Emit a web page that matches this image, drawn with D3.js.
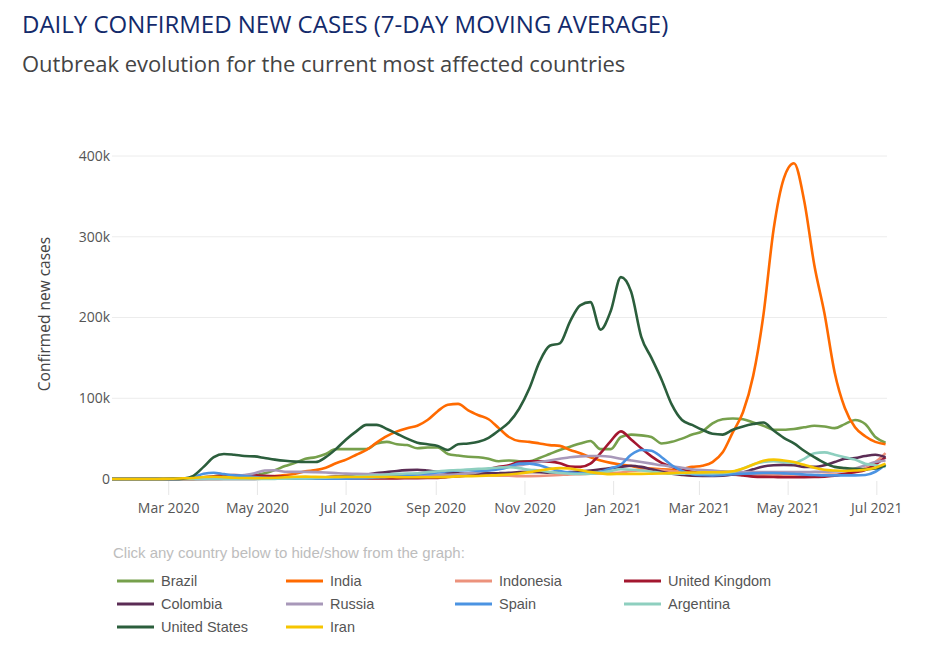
<!DOCTYPE html>
<html>
<head>
<meta charset="utf-8">
<script src="https://cdn.jsdelivr.net/npm/d3@7"></script>
<style>
  body { margin: 0; background: #fff; }
  svg { display: block; }
</style>
</head>
<body>
<div id="chart"></div>
<script>
// weekly 7-day averages, thousands of cases, starting 22 Jan 2020
var startDate = new Date(2020, 0, 22);
var endDate = new Date(2021, 6, 8);

var countries = ["Brazil", "India", "Indonesia", "United Kingdom", "Colombia",
  "Russia", "Spain", "Argentina", "United States", "Iran"];
var colors = ["#76a04c", "#ff6a00", "#ec927c", "#a3172f", "#5b2c55",
  "#a898b9", "#4b93e2", "#8ecfbf", "#2b5e3c", "#f6c500"];

var brazil = [0,0,0,0,0,0,0,0,0.1,0.3,0.8,1.5,2,2.5,4.5,7,11,16,20,25,27,31,37,37,37,37,44,46,43,42,38,39,39,31,29,27.6,27,25,22,23,22,22,26,31,36,40,44,47,37,37,52,55,54,52,44,46,50,55,59,69,74,75,74,70,66,61,61,62,64,66,65,63,68,73,68,52,45];
var india = [0,0,0,0,0,0,0,0.1,0.2,0.5,1,1,1.2,1.5,1.8,2.8,3.8,5,6.5,9.5,11,14,19.5,24,30,36,45,53,59,63,66,73,84,92,93,85,79,74,63,52,47,46,44,42,41,36,32,27,23,20,18,16,14,13,12,11.5,12.5,15,16.5,21,33,58,83,128,203,309,372,391,345,265,205,132,88,64,53,46,43];
var indonesia = [0,0,0,0,0,0,0,0,0,0,0.1,0.25,0.3,0.3,0.35,0.35,0.45,0.5,0.6,0.7,0.9,1,1.1,1.3,1.5,1.6,1.7,1.8,1.8,1.9,2,2.4,2.8,3.2,3.6,4,4.2,4.3,4.2,4,3.6,3.6,3.8,4.3,5,5.7,6,6.5,6.8,7.2,8,10,11,11.5,11,9.5,8.5,7.5,6.5,5.8,5.5,5.3,5,5,5,5.2,4.8,4.5,4,4.5,5.3,5.5,6.5,9,13.5,21,32];
var unitedKingdom = [0,0,0,0,0,0,0,0.3,0.8,2,3.5,4.5,4.8,4.6,4.5,4,3.3,2.8,2,1.6,1.3,1.1,0.9,0.8,0.6,0.6,0.7,0.7,0.8,1,1.1,1.2,1.4,2.5,3.5,4.5,6.5,12,15,17,21,22,22,21.5,19.5,15.5,15,19,32,47,59,49,38,28,20,15,11.5,9,7,6,5.5,5.5,4.5,3,2.6,2.5,2.2,2.2,2.3,2.4,3,4,6.5,8.5,11,18,27];
var colombia = [0,0,0,0,0,0,0,0,0,0,0.1,0.1,0.1,0.15,0.2,0.3,0.4,0.6,0.8,1.1,1.5,2.2,3,3.7,4.5,5.5,7.3,8.5,10,11,11.5,10.5,9,7.8,7,6.5,6.8,7,7.2,7.6,8.5,8.8,8.5,7.8,7.8,8.5,9.3,10.5,12,13.5,15,16.5,15,12,9,6.5,5,4,3.8,3.9,4.2,5.5,8,12,15.5,17,17.5,17,15,15,17,21,25,26,28.5,30,27];
var russia = [0,0,0,0,0,0,0,0,0,0.1,0.6,1.5,3.5,5,7,10.5,10.8,9,8.8,8.8,8.5,8,7.3,6.7,6.5,6.2,5.8,5.5,5.3,5.1,4.9,4.8,5,5.3,5.8,6.8,8.5,11,13.5,15.5,17,19,21,23,25,27,28,28.5,28.5,27.5,25,23,21,19,17,15.5,14,12,11,10.5,9.5,9,8.7,8.7,8.7,8.7,8.6,8.5,8.5,8.8,9,9.2,10,13,17,21,23];
var spain = [0,0,0,0,0,0,0,0.5,2.5,6.5,7.8,6,4.5,3.8,2.5,1.5,0.8,0.5,0.3,0.3,0.3,0.3,0.3,0.4,0.6,1,1.8,2.5,3.5,4.5,6,7,8,9.5,10.5,11,10,10.5,12,15,19,19,17,13,10,8,7,8,9,13,18,30,36,35,27,17,10,6,5,4.5,5,6,6.5,7,7.5,7.5,7,6.5,5.5,5,4.5,4.5,4.5,4.5,5,9,18];
var argentina = [0,0,0,0,0,0,0,0,0,0,0,0.05,0.1,0.1,0.15,0.15,0.2,0.4,0.6,0.8,1.2,1.6,2.2,2.8,3.3,3.8,4.5,5.5,6.3,6.8,7,8.5,9.5,10.5,11,11.8,12.5,13.2,14.2,14.5,13.5,11.5,10.5,8.5,7.5,6.5,6.2,6.5,8,10,12,11.5,10.5,9,7.5,6.5,6.5,7,7,7,7.5,9,13,18,21,22,21,20,25,32,33,30,27,24,19,17,15];
var unitedStates = [0,0,0,0,0,0,0.1,0.5,4,15,27,31,30,28.5,28,26,24,22.5,21.5,21,21,27,37,49,59,67,67,62,56,50,45,43,41,36,43,44,46,51,60,70,87,112,145,165,168,195,215,219,185,208,250,232,176,150,123,92,73,67,61,56,55,61,65,68,70,60,51,44,35,27,20,15,13.5,12.5,12,13,17];
var iran = [0,0,0,0,0,0.1,0.4,0.9,1.2,2.5,2.8,2.3,1.6,1.2,1.1,1.2,1.6,2.2,2.7,3,2.6,2.5,2.6,2.6,2.4,2.4,2.4,2.5,2.3,2.2,2.2,2.2,2.3,2.6,3.2,3.5,3.8,4.3,4.8,5.6,6.8,8.5,10.5,12.5,13.5,13,11,8.5,7,6,6.2,6.3,6.3,6.5,6.8,7.3,7.8,8,8.2,8.3,8.5,9.5,13,18,22.5,24,23,21,17.5,14,11.5,10.5,10,10.5,11.5,14,19];

var seriesValues = [brazil, india, indonesia, unitedKingdom, colombia,
  russia, spain, argentina, unitedStates, iran];

var yTicks = [0, 100, 200, 300, 400];
var xTicks = [new Date(2020, 2, 1), new Date(2020, 4, 1), new Date(2020, 6, 1),
  new Date(2020, 8, 1), new Date(2020, 10, 1), new Date(2021, 0, 1),
  new Date(2021, 2, 1), new Date(2021, 4, 1), new Date(2021, 6, 1)];

var dates = brazil.map(function(v, i){ return d3.timeDay.offset(startDate, i * 7); });

var width = 941, height = 647;
var svg = d3.select("#chart").append("svg")
  .attr("width", width)
  .attr("height", height);

// titles
svg.append("text")
  .attr("x", 22).attr("y", 33)
  .attr("font-family", "Open Sans")
  .attr("font-size", 24)
  .attr("fill", "#132a6b")
  .text("DAILY CONFIRMED NEW CASES (7-DAY MOVING AVERAGE)");
svg.append("text")
  .attr("x", 22).attr("y", 72)
  .attr("font-family", "Open Sans")
  .attr("font-size", 22)
  .attr("fill", "#444")
  .text("Outbreak evolution for the current most affected countries");

var x = d3.scaleTime().domain([startDate, endDate]).range([112, 887]);
var y = d3.scaleLinear().domain([0, 400]).range([479, 156]);

// horizontal grid
svg.selectAll("line.grid")
  .data(yTicks.slice(1))
  .enter().append("line")
  .attr("class", "grid")
  .attr("x1", 112).attr("x2", 887)
  .attr("y1", function(d){ return y(d); })
  .attr("y2", function(d){ return y(d); })
  .attr("stroke", "#ececec");

svg.selectAll("text.ytick")
  .data(yTicks)
  .enter().append("text")
  .attr("class", "ytick")
  .attr("x", 110)
  .attr("y", function(d){ return y(d); })
  .attr("dy", "0.35em")
  .attr("text-anchor", "end")
  .attr("font-family", "Open Sans")
  .attr("font-size", 14)
  .attr("fill", "#555")
  .text(function(d){ return d === 0 ? "0" : d + "k"; });

// x ticks below the zero line
svg.selectAll("line.xtick")
  .data(xTicks)
  .enter().append("line")
  .attr("class", "xtick")
  .attr("x1", function(d){ return x(d); })
  .attr("x2", function(d){ return x(d); })
  .attr("y1", 481).attr("y2", 495)
  .attr("stroke", "#e6e6e6");

var fmt = d3.timeFormat("%b %Y");
svg.selectAll("text.xtick")
  .data(xTicks)
  .enter().append("text")
  .attr("class", "xtick")
  .attr("x", function(d){ return x(d); })
  .attr("y", 513)
  .attr("text-anchor", "middle")
  .attr("font-family", "Open Sans")
  .attr("font-size", 14)
  .attr("fill", "#555")
  .text(fmt);

svg.append("text")
  .attr("transform", "translate(50,314) rotate(-90)")
  .attr("text-anchor", "middle")
  .attr("font-family", "Open Sans")
  .attr("font-size", 15.5)
  .attr("fill", "#444")
  .text("Confirmed new cases");

// lines
var line = d3.line()
  .x(function(d, i){ return x(dates[i]); })
  .y(function(d){ return y(d); })
  .curve(d3.curveMonotoneX);

svg.selectAll("path.country")
  .data(seriesValues)
  .enter().append("path")
  .attr("class", "country")
  .attr("d", line)
  .attr("fill", "none")
  .attr("stroke", function(d, i){ return colors[i]; })
  .attr("stroke-width", 2.6)
  .attr("stroke-linejoin", "round");

// legend
svg.append("text")
  .attr("x", 113).attr("y", 558)
  .attr("font-family", "Liberation Sans")
  .attr("font-size", 15)
  .attr("fill", "#bdbdbd")
  .text("Click any country below to hide/show from the graph:");

var legend = svg.selectAll("g.legend")
  .data(countries)
  .enter().append("g")
  .attr("class", "legend")
  .attr("transform", function(d, i){
    return "translate(" + (117 + (i % 4) * 169) + "," + [581, 604, 627][Math.floor(i / 4)] + ")";
  });
legend.append("line")
  .attr("x1", 0).attr("x2", 37)
  .attr("stroke", function(d, i){ return colors[i]; })
  .attr("stroke-width", 3);
legend.append("text")
  .attr("x", 44)
  .attr("dy", "0.35em")
  .attr("font-family", "Liberation Sans")
  .attr("font-size", 14.5)
  .attr("fill", "#555")
  .text(function(d){ return d; });
</script>
</body>
</html>
